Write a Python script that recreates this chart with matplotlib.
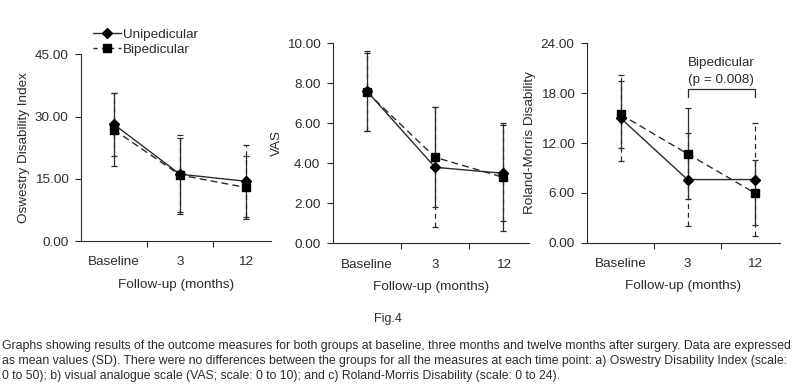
import numpy as np
import matplotlib.pyplot as plt
from matplotlib.lines import Line2D
from matplotlib import font_manager

# Data: mean (SD) per follow-up time point
months = ["Baseline", "3", "12"]

odi_uni = [28.1, 16.1, 14.4]
odi_uni_sd = [7.6, 9.5, 8.7]
odi_bi = [26.8, 15.9, 12.9]
odi_bi_sd = [8.8, 9.0, 7.7]

vas_uni = [7.6, 3.8, 3.5]
vas_uni_sd = [2.0, 3.0, 2.4]
vas_bi = [7.55, 4.3, 3.3]
vas_bi_sd = [1.95, 2.5, 2.7]

rm_uni = [15.0, 7.6, 7.6]
rm_uni_sd = [5.2, 5.6, 6.8]
rm_bi = [15.45, 10.7, 6.0]
rm_bi_sd = [4.0, 5.5, 3.9]

y_labels = ["Oswestry Disability Index", "VAS", "Roland-Morris Disability"]
y_ticks = [[0, 15, 30, 45], [0, 2, 4, 6, 8, 10], [0, 6, 12, 18, 24]]
x_label = "Follow-up (months)"

caption = [
    "Graphs showing results of the outcome measures for both groups at baseline, three months and twelve months after surgery. Data are expressed",
    "as mean values (SD). There were no differences between the groups for all the measures at each time point: a) Oswestry Disability Index (scale:",
    "0 to 50); b) visual analogue scale (VAS; scale: 0 to 10); and c) Roland-Morris Disability (scale: 0 to 24).",
]

INK = "#2b2b2b"
FS = 9.7
plt.rcParams['font.family'] = ['Liberation Sans', 'DejaVu Sans']
names = {f.name for f in font_manager.fontManager.ttflist}
narrow = 'Liberation Sans Narrow' if 'Liberation Sans Narrow' in names else 'Liberation Sans'

fig = plt.figure(figsize=(8, 3.84), dpi=100)
W, H = 800, 384


def px_axes(left, top, right, bottom):
    return fig.add_axes([left / W, 1 - bottom / H, (right - left) / W, (bottom - top) / H])


boxes = [(81, 54.3, 271, 241), (333, 43.3, 529, 243.3), (587, 43.3, 780, 242.7)]
series = [
    (odi_uni, odi_uni_sd, odi_bi, odi_bi_sd),
    (vas_uni, vas_uni_sd, vas_bi, vas_bi_sd),
    (rm_uni, rm_uni_sd, rm_bi, rm_bi_sd),
]

x = np.arange(len(months)) + 0.5
axes = []
for box, (u, usd, b, bsd), ylab, yt in zip(boxes, series, y_labels, y_ticks):
    ax = px_axes(*box)
    axes.append(ax)
    # error bars (uni dashed, bi solid, as in the figure)
    eb = ax.errorbar(x, u, yerr=usd, fmt='none', ecolor=INK, elinewidth=0.9,
                     capsize=2, capthick=0.9, zorder=2)
    eb[2][0].set_linestyle((0, (4, 3)))
    ax.errorbar(x, b, yerr=bsd, fmt='none', ecolor=INK, elinewidth=0.9,
                capsize=2, capthick=0.9, zorder=2)
    ax.plot(x, b, color=INK, lw=1.0, dashes=(5, 3), marker='s', ms=5.5,
            mfc='black', mec='black', zorder=3)
    ax.plot(x, u, color=INK, lw=1.0, marker='D', ms=5.5,
            mfc='black', mec='black', zorder=4)

    ax.set_xlim(0, 2.88)
    ax.set_ylim(0, yt[-1])
    ax.set_yticks(yt)
    ax.set_yticklabels([f"{v:.2f}" for v in yt])
    ax.set_xticks([1, 2])
    ax.set_xticklabels([])
    ax.set_xticks(x, minor=True)
    ax.set_xticklabels(months, minor=True)
    ax.tick_params(axis='x', which='minor', length=0, pad=11, labelsize=FS, colors=INK)
    ax.tick_params(axis='x', which='major', length=4, width=0.8, color=INK)
    ax.tick_params(axis='y', length=4, width=0.8, pad=5, labelsize=FS, colors=INK)
    for s in ['top', 'right']:
        ax.spines[s].set_visible(False)
    for s in ['left', 'bottom']:
        ax.spines[s].set_color(INK)
        ax.spines[s].set_linewidth(0.8)
    ax.set_ylabel(ylab, fontsize=FS, color=INK, labelpad=3)
    ax.set_xlabel(x_label, fontsize=FS, color=INK, labelpad=7.5)

# significance bracket on the Roland-Morris panel
ax3 = axes[2]
ax3.plot([x[1], x[1], x[2], x[2]], [17.5, 18.5, 18.5, 17.5], color=INK, lw=0.9)
ax3.text(x[2] - 0.5, 21.6, "Bipedicular", ha='center', va='center', fontsize=FS, color=INK)
ax3.text(x[2] - 0.5, 19.6, "(p = 0.008)", ha='center', va='center', fontsize=FS, color=INK)

# legend
handles = [
    Line2D([], [], color=INK, lw=1.0, marker='D', ms=5.5, mfc='black', mec='black'),
    Line2D([], [], color=INK, lw=1.0, dashes=(3, 3), marker='s', ms=5.5, mfc='black', mec='black'),
]
fig.legend(handles, ["Unipedicular", "Bipedicular"], loc='upper left',
           bbox_to_anchor=(86 / W, 1 - 22 / H), frameon=False, fontsize=FS,
           handlelength=2.1, handletextpad=0.15, labelspacing=0.15, borderpad=0,
           labelcolor=INK)

# figure label and caption
fig.text(388 / W, 1 - 319 / H, "Fig.4", ha='center', va='center', fontsize=9,
         color=INK, family=[narrow, 'DejaVu Sans'])
for i, line in enumerate(caption):
    fig.text(2 / W, 1 - (346 + 15 * i) / H, line, ha='left', va='center',
             fontsize=8.8, color=INK, family=[narrow, 'DejaVu Sans'])

fig.savefig("out.png", dpi=100, facecolor='white')
